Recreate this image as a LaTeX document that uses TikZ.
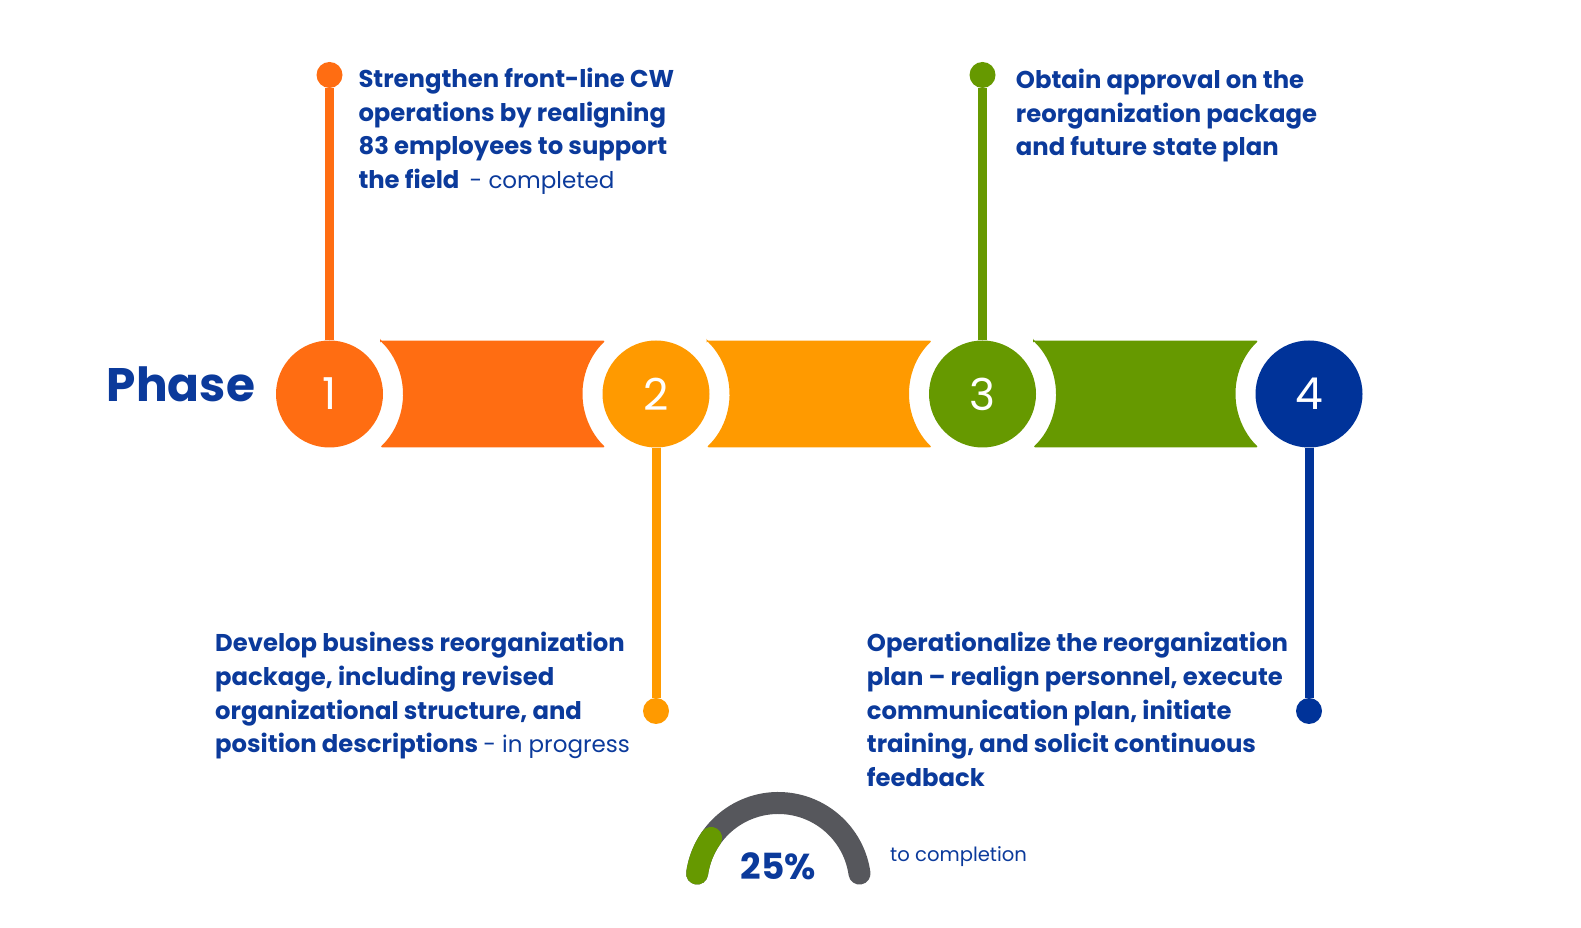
\documentclass[tikz,border=0pt]{standalone}
\usepackage{fontspec}
\setmainfont{Poppins}
\definecolor{phaseone}{HTML}{FF6D12}
\definecolor{phasetwo}{HTML}{FF9A00}
\definecolor{phasethree}{HTML}{669900}
\definecolor{phasefour}{HTML}{003399}
\definecolor{goaltext}{HTML}{0B3A9B}
\definecolor{gaugegray}{HTML}{56575C}
\newcommand{\goalstate}[1]{{\fontsize{23}{33.7}\selectfont\mdseries #1}}
\tikzset{
  phase/.style={circle, minimum size=107pt, inner sep=0pt, text=white,
    font=\fontsize{44}{44}\selectfont},
  dot/.style={circle, minimum size=26pt, inner sep=0pt},
  stem/.style={line width=9pt},
  goal/.style={anchor=north west, align=left, inner sep=0pt, text=goaltext,
    font=\fontsize{24.3}{33.7}\selectfont\bfseries},
  gauge/.style={line width=22pt, line cap=round},
}
\begin{document}
\begin{tikzpicture}[x=1pt, y=1pt]
  \useasboundingbox (0,0) rectangle (1581,928);
  % bands between the phases
  \fill[phaseone, rounded corners=2pt] (380.1,587.3) -- (605.4,587.3)
    arc[start angle=133.5, end angle=226.5, radius=73.5pt] -- (380.1,480.7)
    arc[start angle=-46.5, end angle=46.5, radius=73.5pt] -- cycle;
  \fill[phasetwo, rounded corners=2pt] (706.6,587.3) -- (931.9,587.3)
    arc[start angle=133.5, end angle=226.5, radius=73.5pt] -- (706.6,480.7)
    arc[start angle=-46.5, end angle=46.5, radius=73.5pt] -- cycle;
  \fill[phasethree, rounded corners=2pt] (1033.1,587.3) -- (1258.4,587.3)
    arc[start angle=133.5, end angle=226.5, radius=73.5pt] -- (1033.1,480.7)
    arc[start angle=-46.5, end angle=46.5, radius=73.5pt] -- cycle;
  % phases
  \node[anchor=base west, inner sep=0pt, text=goaltext,
    font=\fontsize{47}{47}\selectfont\bfseries] (title) at (106.7,526.3) {Phase};
  \node[phase, fill=phaseone] (p1) at (329.5,534) {1};
  \node[phase, fill=phasetwo] (p2) at (656,534) {2};
  \node[phase, fill=phasethree] (p3) at (982.5,534) {3};
  \node[phase, fill=phasefour] (p4) at (1309,534) {4};
  % stems and dots
  \node[dot, fill=phaseone] (d1) at (329.5,853) {};
  \node[dot, fill=phasetwo] (d2) at (656,217) {};
  \node[dot, fill=phasethree] (d3) at (982.5,853) {};
  \node[dot, fill=phasefour] (d4) at (1309,217) {};
  \draw[stem, phaseone] (d1) -- (p1);
  \draw[stem, phasetwo] (p2) -- (d2);
  \draw[stem, phasethree] (d3) -- (p3);
  \draw[stem, phasefour] (p4) -- (d4);
  % goals
  \node[goal] (g1) at (358.3,860.3) {Strengthen front-line CW\\operations by realigning\\83 employees to support\\the field \ \goalstate{- completed}};
  \node[goal] (g2) at (215,296) {Develop business reorganization\\package, including revised\\organizational structure, and\\position descriptions \goalstate{- in progress}};
  \node[goal] (g3) at (1015.7,859.3) {Obtain approval on the\\reorganization package\\and future state plan};
  \node[goal] (g4) at (866.7,296) {Operationalize the reorganization\\plan -- realign personnel, execute\\communication plan, initiate\\training, and solicit continuous\\feedback};
  % gauge
  \coordinate (g) at (778.3,43);
  \draw[gauge, gaugegray] (g) ++(172:82) arc[start angle=172, end angle=8, radius=82pt];
  \draw[gauge, phasethree] (g) ++(172:82) arc[start angle=172, end angle=145, radius=82pt];
  \node[anchor=base, inner sep=0pt, text=goaltext,
    font=\fontsize{36}{36}\selectfont\bfseries] (pct) at (778.3,48) {25\%};
  \node[anchor=base west, inner sep=0pt, text=goaltext,
    font=\fontsize{19.6}{19.6}\selectfont] (done) at (890,66.3) {to completion};
\end{tikzpicture}
\end{document}
